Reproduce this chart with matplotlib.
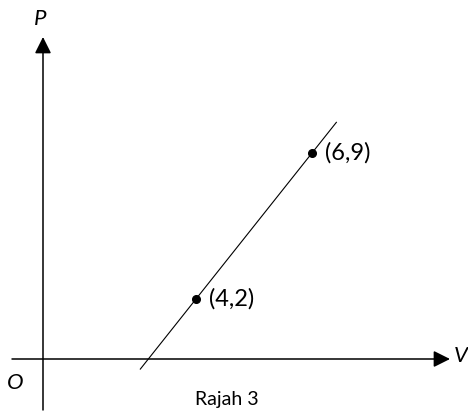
import matplotlib
matplotlib.use("Agg")
import matplotlib.pyplot as plt
import numpy as np

# titik yang dilabel (kedudukan dalam unit rajah, bukan berskala)
point_labels = ["(4,2)", "(6,9)"]
point_x = [15.3, 26.9]
point_y = [6.0, 20.6]

# hujung garis lurus (parameter sepanjang garis melalui dua titik)
line_t = [-0.48, 1.21]

# paksi
xlim = (-4.3, 42.5)
ylim = (-5.4, 35.9)
axis_x_range = (-3.1, 40.7)
axis_y_range = (-5.1, 32.2)

plt.rcParams['font.family'] = ['Lato', 'DejaVu Sans']

fig = plt.figure(figsize=(4.68, 4.13), dpi=100)
ax = fig.add_axes([0, 0, 1, 1])
ax.set_xlim(*xlim)
ax.set_ylim(*ylim)
ax.axis("off")

arrow = dict(arrowstyle="-|>,head_length=0.5,head_width=0.25", mutation_scale=20,
             color="black", lw=1.1, shrinkA=0, shrinkB=0)
ax.annotate("", xy=(axis_x_range[1], 0), xytext=(axis_x_range[0], 0), arrowprops=arrow)
ax.annotate("", xy=(0, axis_y_range[1]), xytext=(0, axis_y_range[0]), arrowprops=arrow)

# garis lurus melalui kedua-dua titik
x0, y0 = point_x[0], point_y[0]
dx, dy = point_x[1] - point_x[0], point_y[1] - point_y[0]
t = np.array(line_t)
ax.plot(x0 + t * dx, y0 + t * dy, color="black", lw=0.8)

ax.plot(point_x, point_y, "o", color="black", markersize=5.5)
for lab, px, py in zip(point_labels, point_x, point_y):
    ax.text(px + 1.3, py, lab, fontsize=17, va="center", ha="left")

ax.text(-0.3, 34.0, "P", fontsize=16, style="italic", ha="center", va="center")
ax.text(41.8, 0.3, "V", fontsize=16, style="italic", ha="center", va="center")
ax.text(-2.8, -2.4, "O", fontsize=16, style="italic", ha="center", va="center")
ax.text(18.4, -4.0, "Rajah 3", fontsize=14, ha="center", va="center")

fig.savefig("out.png", dpi=100)
